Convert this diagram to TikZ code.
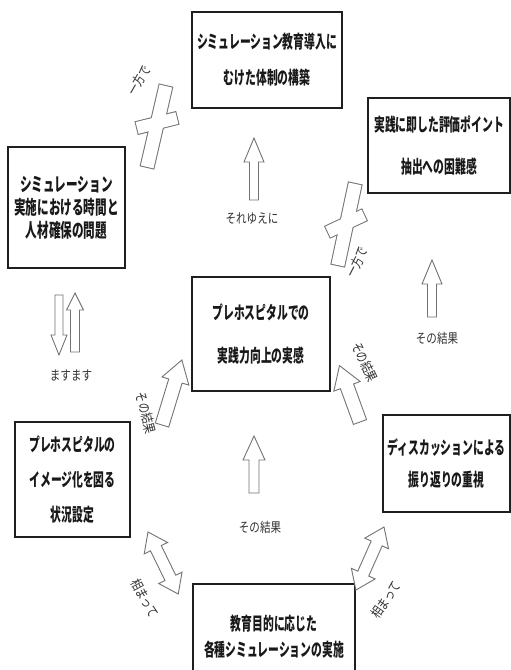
\documentclass[tikz,border=0pt]{standalone}
\usepackage{fontspec}
\newfontfamily\jp[FakeStretch=0.6]{Noto Sans CJK JP}
\newfontfamily\jpw[FakeStretch=0.61]{Noto Sans CJK JP}
\newfontfamily\jpl[FakeStretch=0.78]{Noto Sans CJK JP}
\newcommand{\blockarr}[6]{%
  \draw[arrowline, shift={(#1)}, rotate=#2]
    (0,-#4) -- ({#3-#6},-#4) -- ({#3-#6},-#5) -- (#3,0) -- ({#3-#6},#5) -- ({#3-#6},#4) -- (0,#4) -- cycle;}
\newcommand{\dblarr}[6]{%
  \draw[arrowline, shift={(#1)}, rotate=#2]
    (0,0) -- (#6,-#5) -- (#6,-#4) -- ({#3-#6},-#4) -- ({#3-#6},-#5) -- (#3,0)
    -- ({#3-#6},#5) -- ({#3-#6},#4) -- (#6,#4) -- (#6,#5) -- cycle;}
\tikzset{
  box/.style={draw=black!88, line width=1.3pt, fill=white, align=center, inner sep=0pt, text=black!90},
  bfont/.style={font=\jp\bfseries\fontsize{18}{#1}\selectfont},
  lab/.style={font=\jpl\fontsize{13.5}{15}\selectfont, text=black!80, inner sep=0pt},
  arrowline/.style={draw=black!55, line width=0.9pt, fill=white, line join=miter},
  crossout/.style={draw=black!55, line width=2pt, rectangle, inner sep=0pt},
  crossin/.style={fill=white, rectangle, inner sep=0pt},
}
\begin{document}
\begin{tikzpicture}[x=1pt, y=-1pt]
\useasboundingbox (0,0) rectangle (511,670);
\fill[white] (0,0) rectangle (511,670);

% boxes
\node[box, bfont=36, minimum width=150, minimum height=96] (top) at (267,60)
  {シミュレーション教育導入に\\むけた体制の構築};
\node[box, bfont=42, minimum width=142, minimum height=95] (rtop) at (439,145.5)
  {実践に即した評価ポイント\\抽出への困難感};
\node[box, font=\jpw\bfseries\fontsize{19}{23}\selectfont, minimum width=117, minimum height=121] (left) at (66.5,207.5)
  {シミュレーション\\実施における時間と\\人材確保の問題};
\node[box, bfont=43, minimum width=138, minimum height=114] (center) at (261,334)
  {プレホスピタルでの\\実践力向上の実感};
\node[box, bfont=35, minimum width=115, minimum height=115] (llow) at (72.5,479.5)
  {プレホスピタルの\\イメージ化を図る\\状況設定};
\node[box, bfont=32, minimum width=127, minimum height=97] (rlow) at (446.5,463.5)
  {ディスカッションによる\\振り返りの重視};
\node[box, bfont=26, minimum width=162, minimum height=106] (bottom) at (274,637)
  {教育目的に応じた\\各種シミュレーションの実施};

% vertical block arrows
\blockarr{254,200}{90}{62}{4.5}{10}{24}
\blockarr{254,493}{90}{57}{5}{11}{24}
\blockarr{432,317}{90}{57}{4.5}{10}{24}
\blockarr{59,295}{-90}{60}{4}{8}{20}
\blockarr{75,352}{90}{59}{4.5}{8.5}{17}

% diagonal arrows
\blockarr{162,425}{73}{68}{7}{14}{22}
\blockarr{360,422}{110}{60}{7}{14}{22}
\dblarr{148,532}{-64}{69}{6}{13}{18}
\dblarr{384,527}{-114}{69}{6}{13}{18}

% crosses
\node[crossout, minimum width=83, minimum height=13, rotate=77] (c1a) at (156.5,126.5) {};
\node[crossout, minimum width=41, minimum height=12, rotate=14] (c1b) at (157,123) {};
\node[crossin, minimum width=83, minimum height=13, rotate=77] (c1c) at (156.5,126.5) {};
\node[crossin, minimum width=41, minimum height=12, rotate=14] (c1d) at (157,123) {};
\node[crossout, minimum width=83, minimum height=13, rotate=78] (c2a) at (346.5,224.5) {};
\node[crossout, minimum width=40, minimum height=12, rotate=25] (c2b) at (346,223.5) {};
\node[crossin, minimum width=83, minimum height=13, rotate=78] (c2c) at (346.5,224.5) {};
\node[crossin, minimum width=40, minimum height=12, rotate=25] (c2d) at (346,223.5) {};

% labels
\node[lab] (l1) at (252,219) {それゆえに};
\node[lab] (l2) at (260,527) {その結果};
\node[lab] (l3) at (437,338) {その結果};
\node[lab] (l4) at (71,375) {ますます};
\node[lab, rotate=60] (l5) at (139,80) {一方で};
\node[lab, rotate=63] (l6) at (357,262) {一方で};
\node[lab, rotate=-76] (l7) at (146,413) {その結果};
\node[lab, rotate=-65] (l8) at (365,362) {その結果};
\node[lab, rotate=-62] (l9) at (145,598) {相まって};
\node[lab, rotate=55] (l10) at (386,600) {相まって};
\end{tikzpicture}
\end{document}
